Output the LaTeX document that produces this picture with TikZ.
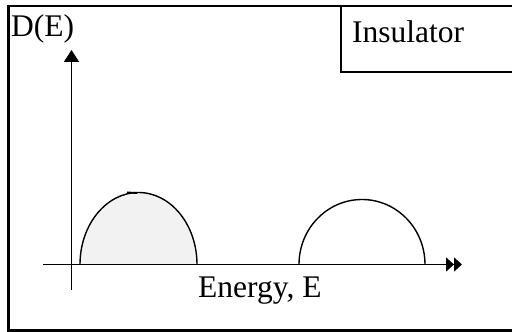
\documentclass[tikz,border=0pt]{standalone}
\usepackage{fontspec}
\setmainfont{Liberation Serif}
\usetikzlibrary{arrows.meta}
\begin{document}
\begin{tikzpicture}[x=1pt,y=1pt,
  lbl/.style={inner sep=0pt,anchor=base west,font=\fontsize{31.5}{36}\selectfont},
  axis/.style={line width=1.6pt},
  band/.style={line width=1.4pt}]
\useasboundingbox (0,0) rectangle (512,332);
\clip (0,0) rectangle (512,332);
% outer frame
\draw[line width=2.8pt] (8.3,326) -- (530,326) -- (530,1.5) -- (8.3,1.5) -- cycle;
% insulator box
\draw[line width=2pt] (341,326) -- (341,259.5) -- (530,259.5);
\node[lbl] (ins) at (352,289) {Insulator};
\node[lbl] (de) at (11,295) {D(E)};
\node[lbl] (en) at (198,34) {Energy, E};
% axes
\coordinate (xs) at (43,67.5);
\coordinate (xe) at (462,67.5);
\coordinate (ys) at (71.5,42);
\coordinate (ye) at (71.5,282);
% filled band
\fill[gray!10] (80,67.5) arc[start angle=180,end angle=0,x radius=58.5,y radius=72] -- cycle;
\draw[band] (80,67.5) arc[start angle=180,end angle=0,x radius=58.5,y radius=72];
\draw[line width=1.8pt] (127,139.6) -- (137.5,138.9);
% empty band
\draw[band] (299,67.5) arc[start angle=180,end angle=0,x radius=63,y radius=65];
\draw[axis,-{Triangle[length=8pt,width=14pt]Triangle[length=8pt,width=14pt]}] (xs) -- (xe);
\draw[axis,-{Triangle[length=12pt,width=15pt]}] (ys) -- (ye);
\end{tikzpicture}
\end{document}
